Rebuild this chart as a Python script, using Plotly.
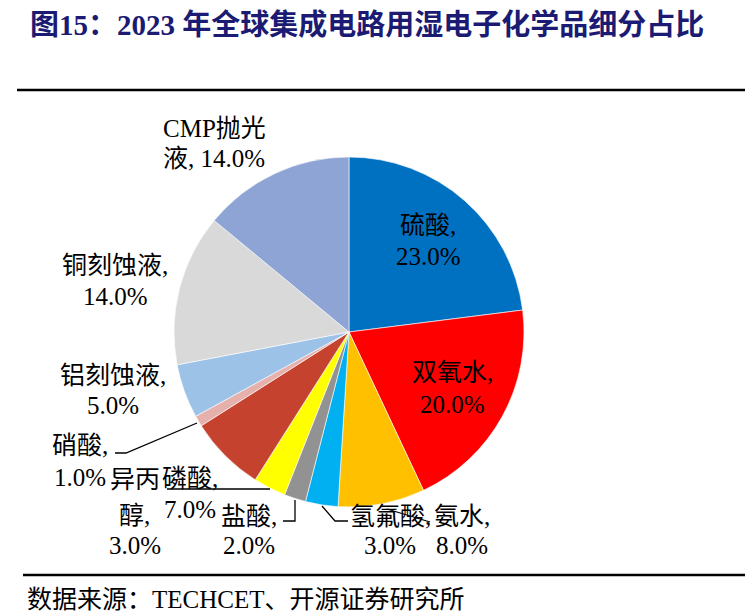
import plotly.graph_objects as go

PAGE_W, PAGE_H = 753, 612
OFF = 8  # default body margin of the page
W, H = PAGE_W - OFF, PAGE_H - OFF

names = ["硫酸", "双氧水", "氨水", "氢氟酸", "盐酸", "异丙醇", "磷酸", "硝酸", "铝刻蚀液", "铜刻蚀液", "CMP抛光液"]
shares = [23.0, 20.0, 8.0, 3.0, 2.0, 3.0, 7.0, 1.0, 5.0, 14.0, 14.0]
colors = ["#0070C0", "#FF0000", "#FFC000", "#00B0F0", "#929292", "#FFFF00",
          "#C4422E", "#E6B0AC", "#9DC2E8", "#D9D9D9", "#8EA4D4"]

title_text = "图15：2023 年全球集成电路用湿电子化学品细分占比"
source_text = "数据来源：TECHCET、开源证券研究所"

FONT = "Liberation Serif, Times New Roman, Noto Sans CJK SC, serif"

# where each label sits on the page (pixels): x centre, y of each line
label_pos = {
    "硫酸": (428, [226, 256]),
    "双氧水": (452, [372, 404]),
    "氨水": (462, [516, 545]),
    "氢氟酸": (390, [516, 545]),
    "盐酸": (249, [516, 545]),
    "异丙醇": (135, [479, 515, 545]),
    "磷酸": (190, [478, 509]),
    "硝酸": (80, [445, 477]),
    "铝刻蚀液": (113, [375, 405]),
    "铜刻蚀液": (115, [265, 297]),
    "CMP抛光液": (214, [128, 158]),
}

# leader lines, pixel polylines on the page
leaders = [
    [(115, 453), (126, 453), (197, 423)],
    [(167, 489), (270, 489)],
    [(283, 521), (295, 521), (295, 500)],
    [(322, 506), (335, 521), (348, 521)],
    [(387, 509), (430, 522)],
]


def px(x):
    return (x - OFF) / W


def py(y):
    return 1 - (y - OFF) / H


def label_lines(name, v):
    pct = f"{v:.1f}%"
    if name == "CMP抛光液":
        return ["CMP抛光", f"液, {pct}"]
    if name == "异丙醇":
        return ["异丙", "醇,", pct]
    return [name + ",", pct]


cx, cy, r = 349, 332, 175

fig = go.Figure(go.Pie(
    labels=names,
    values=shares,
    sort=False,
    direction="clockwise",
    rotation=0,
    marker=dict(colors=colors, line=dict(color="white", width=0.6)),
    textinfo="none",
    hoverinfo="label+percent",
    domain=dict(x=[px(cx - r), px(cx + r)], y=[py(cy + r), py(cy - r)]),
    showlegend=False,
))

annotations = []
for name, v in zip(names, shares):
    x, ys = label_pos[name]
    for line, y in zip(label_lines(name, v), ys):
        annotations.append(dict(
            x=px(x), y=py(y), xref="paper", yref="paper",
            text=line, showarrow=False, xanchor="center", yanchor="middle",
            font=dict(family=FONT, size=25, color="black"),
        ))

annotations.append(dict(
    x=px(28), y=py(25), xref="paper", yref="paper", text="<b>" + title_text + "</b>",
    showarrow=False, xanchor="left", yanchor="middle",
    font=dict(family=FONT, size=29, color="#1B1B73"),
))
annotations.append(dict(
    x=px(25), y=py(599), xref="paper", yref="paper", text=source_text,
    showarrow=False, xanchor="left", yanchor="middle",
    font=dict(family=FONT, size=25, color="black"),
))

shapes = [
    dict(type="line", xref="paper", yref="paper", x0=px(17), x1=1, y0=py(90), y1=py(90),
         line=dict(color="black", width=2.5)),
    dict(type="line", xref="paper", yref="paper", x0=px(23), x1=1, y0=py(575), y1=py(575),
         line=dict(color="black", width=2.5)),
]
for pts in leaders:
    path = "M " + " L ".join(f"{px(x):.5f},{py(y):.5f}" for x, y in pts)
    shapes.append(dict(type="path", xref="paper", yref="paper", path=path,
                       line=dict(color="black", width=1.3)))

fig.update_layout(
    width=W, height=H,
    margin=dict(l=0, r=0, t=0, b=0),
    paper_bgcolor="white", plot_bgcolor="white",
    annotations=annotations,
    shapes=shapes,
)

fig.write_html("out.html")
